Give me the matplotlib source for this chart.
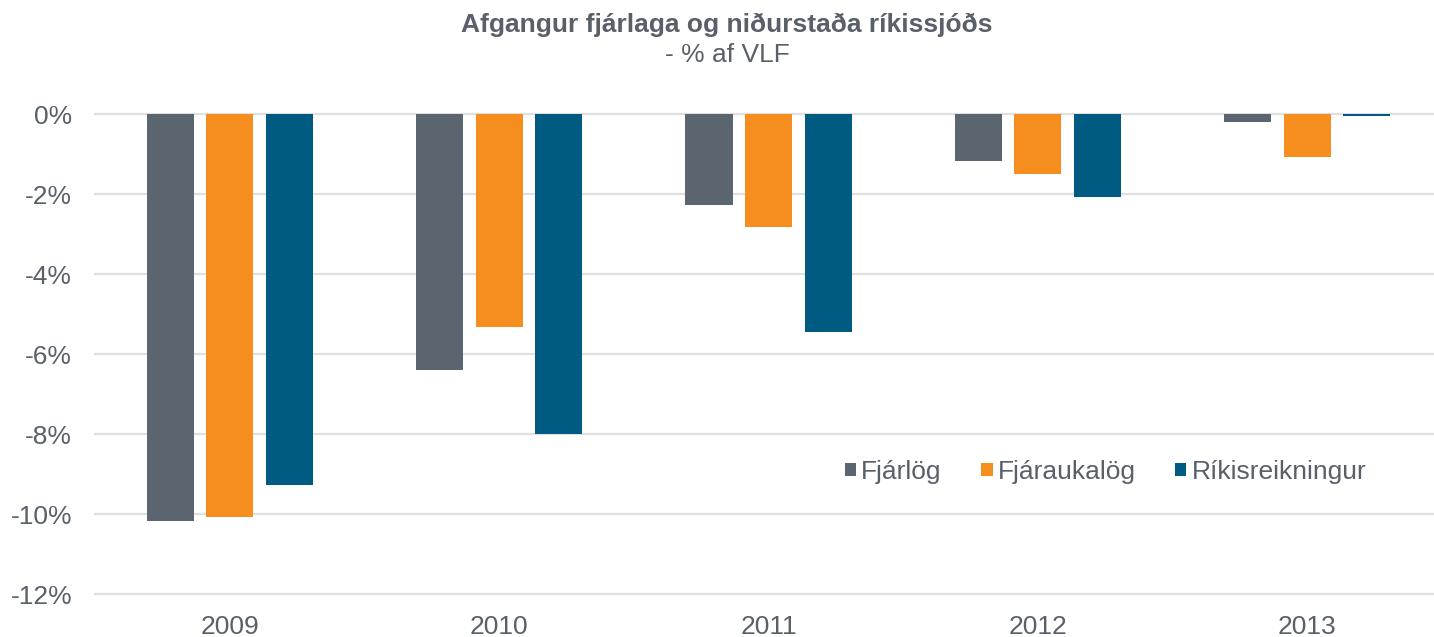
import numpy as np
import matplotlib
matplotlib.use('Agg')
import matplotlib.pyplot as plt
from matplotlib.ticker import FuncFormatter

# data (% of GDP)
years = ['2009', '2010', '2011', '2012', '2013']
fjarlog = [-10.18, -6.40, -2.27, -1.18, -0.19]
fjaraukalog = [-10.08, -5.33, -2.83, -1.50, -1.08]
rikisreikningur = [-9.28, -8.00, -5.45, -2.08, -0.04]
series_names = ['Fjárlög', 'Fjáraukalög', 'Ríkisreikningur']
yticks = [0, -2, -4, -6, -8, -10, -12]

colors = ['#5b6570', '#f58d1f', '#005b82']
txt_col = '#596069'

plt.rcParams['font.family'] = ['Liberation Sans', 'DejaVu Sans']

fig = plt.figure(figsize=(14.34, 6.37), dpi=100)
ax = fig.add_axes([95 / 1434, 1 - 594 / 637, 1 - 95 / 1434, (594 - 114) / 637])

x = np.arange(len(years))
w = 0.1745
off = 0.221
for i, (vals, name) in enumerate(zip([fjarlog, fjaraukalog, rikisreikningur], series_names)):
    ax.bar(x + (i - 1) * off, vals, width=w, color=colors[i], label=name, zorder=3)

ax.set_xlim(-0.5, 4.47)
ax.set_ylim(-12, 0)
ax.set_yticks(yticks)
ax.yaxis.set_major_formatter(FuncFormatter(lambda v, p: '%d%%' % v))
ax.set_xticks(x)
ax.set_xticklabels(years)

for v in yticks:
    ax.axhline(v, color='#e0e0e0', lw=1.6, zorder=1, clip_on=False)

for s in ax.spines.values():
    s.set_visible(False)
ax.tick_params(axis='both', length=0, labelsize=19, labelcolor=txt_col)
ax.tick_params(axis='y', pad=16.5)
ax.tick_params(axis='x', pad=15)

fig.text(727 / 1434, 1 - 25 / 637, 'Afgangur fjárlaga og niðurstaða ríkissjóðs',
         ha='center', va='center', fontsize=19, fontweight='bold', color=txt_col)
fig.text(727 / 1434, 1 - 55 / 637, '- % af VLF',
         ha='center', va='center', fontsize=19, color=txt_col)

leg = ax.legend(loc='center left', bbox_to_anchor=(845 / 1434, 1 - 472 / 637),
                bbox_transform=fig.transFigure, ncol=3, frameon=False,
                fontsize=19, labelcolor=txt_col, handlelength=0.42, handleheight=0.42,
                handletextpad=0.2, columnspacing=1.5, borderpad=0, borderaxespad=0)

fig.savefig('out.png', dpi=100, facecolor='white')
